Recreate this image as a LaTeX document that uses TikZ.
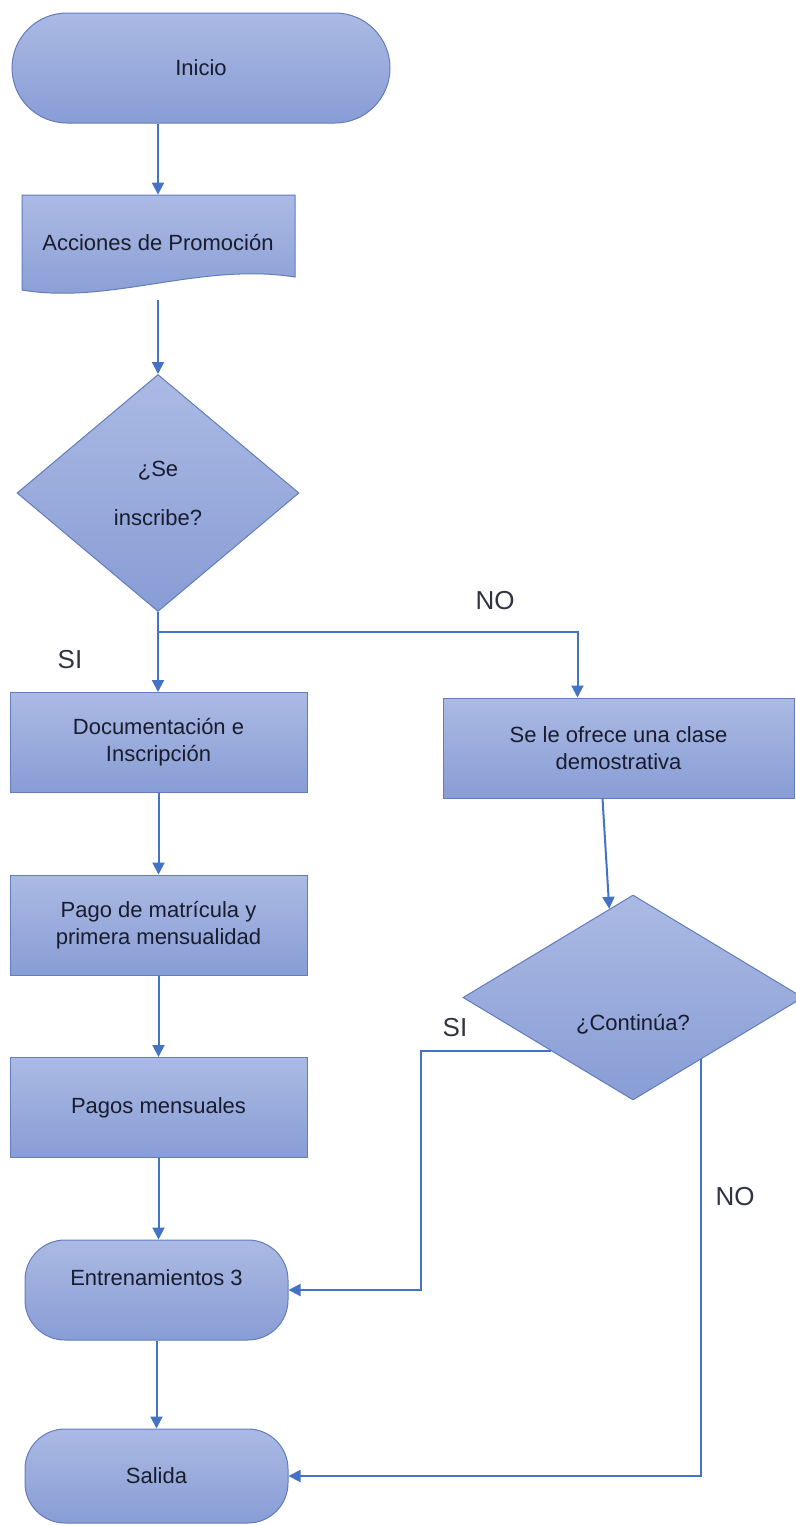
\documentclass[tikz,border=0pt]{standalone}
\usepackage{fontspec}
\setmainfont{Liberation Sans}
\usepackage{tikz}
\usetikzlibrary{arrows.meta,positioning,shapes.geometric}
\definecolor{boxtop}{RGB}{171,186,228}
\definecolor{boxbot}{RGB}{136,157,213}
\definecolor{boxedge}{RGB}{98,124,190}
\definecolor{flow}{RGB}{68,114,196}
\definecolor{ink}{RGB}{25,28,45}

\begin{document}
\begin{tikzpicture}[x=0.5pt, y=-0.5pt,
  blueshade/.style={draw=boxedge, top color=boxtop, bottom color=boxbot, line width=0.5pt},
  txt/.style={font=\fontsize{11}{13.5}\selectfont, text=ink, align=center},
  process/.style={blueshade, txt, rectangle, minimum width=148.5pt, minimum height=50pt},
  terminal/.style={blueshade, txt, rectangle, rounded corners=20pt,
    minimum width=131.5pt, minimum height=50pt},
  decision/.style={blueshade, txt, diamond, inner sep=2pt},
  arr/.style={-{Triangle[width=6pt,length=6pt]}, line width=1pt, draw=flow},
  branch/.style={font=\fontsize{13}{15}\selectfont, text=ink!90},
]
\useasboundingbox (0,0) rectangle (796,1526);

% Main column
\node[terminal, minimum width=189pt, minimum height=55pt, rounded corners=27.5pt]
  (inicio) at (201,68) {Inicio};

% document shape (wavy bottom)
\path[blueshade] (22,195) -- (295,195) -- (295,277)
  .. controls (200,262) and (110,305) .. (22,290) -- cycle;
\node[txt, minimum width=136.5pt, minimum height=47.5pt] (promo) at (158,242.5)
  {Acciones de Promoción};

\node[decision, minimum width=141pt, minimum height=118.5pt] (inscribe) at (158,493)
  {¿Se\\[11pt]inscribe?};

\node[process] (doc)   at (158.5,742.5) {Documentación e\\Inscripción};
\node[process] (pago)  at (158.5,925)   {Pago de matrícula y\\primera mensualidad};
\node[process] (pagos) at (158.5,1107.5) {Pagos mensuales};
\node[terminal, text height=8pt, text depth=13pt] (entrena) at (156.5,1290)
  {Entrenamientos 3};
\node[terminal, minimum height=47pt] (salida) at (156.5,1476) {Salida};

% NO branch
\node[process, minimum width=175.5pt] (ofrece) at (618.5,748)
  {Se le ofrece una clase\\demostrativa};
\node[decision, shape aspect=1.66, minimum width=170pt, minimum height=102.5pt,
  text height=36pt, text depth=3pt] (continua) at (633,997.5) {¿Continúa?};

% Arrows
\coordinate (split) at (158,632);
\draw[arr] (inicio.south -| promo.north) -- (promo.north);
\draw[arr, shorten <=5pt] (promo.south) -- (inscribe.north);
\draw[arr] (inscribe.south) -- (inscribe.south |- doc.north);
\draw[arr] (split) -| ([xshift=-20.5pt]ofrece.north);
\draw[arr] (doc.south) -- (pago.north);
\draw[arr] (pago.south) -- (pagos.north);
\draw[arr] (pagos.south) -- (pagos.south |- entrena.north);
\draw[arr] (entrena.south) -- (salida.north);
\draw[arr] ([xshift=-8pt]ofrece.south) -- (continua.105);
\draw[arr] (continua.213) -- ++(-130,0) |- (entrena.east);
\draw[arr] (continua.318) |- (salida.east);

% Branch labels
\node[branch] (no1) at (495,601)  {NO};
\node[branch] (si1) at (70,660)   {SI};
\node[branch] (si2) at (455,1028) {SI};
\node[branch] (no2) at (735,1197) {NO};
\end{tikzpicture}
\end{document}
